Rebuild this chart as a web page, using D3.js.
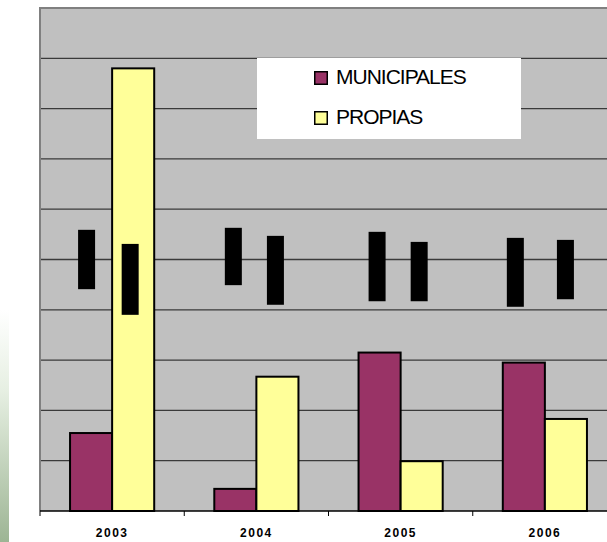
<!DOCTYPE html>
<html>
<head>
<meta charset="utf-8">
<script src="https://cdn.jsdelivr.net/npm/d3@7/dist/d3.min.js"></script>
<style>
  html, body { margin: 0; padding: 0; background: #ffffff; }
  svg { display: block; }
</style>
</head>
<body>
<svg id="chart" width="607" height="542"></svg>
<script>
// Yearly totals by origin
const years = ["2003", "2004", "2005", "2006"];
const seriesNames = ["MUNICIPALES", "PROPIAS"];
const municipales = [1.55, 0.44, 3.15, 2.95];
const propias = [8.8, 2.67, 0.99, 1.83];
const seriesColors = ["#993366", "#ffff99"];
const gridTicks = [0, 1, 2, 3, 4, 5, 6, 7, 8, 9, 10];

// Value-label boxes (blanked), as upper/lower value per bar
const labelTopMun = [5.59, 5.63, 5.55, 5.43];
const labelBotMun = [4.41, 4.49, 4.17, 4.06];
const labelTopPro = [5.31, 5.47, 5.35, 5.39];
const labelBotPro = [3.90, 4.10, 4.17, 4.21];

const svg = d3.select("#chart");
const W = 607, H = 542;
const plot = { left: 40, right: 617, top: 8, bottom: 511 };

// soft green strip on the left edge
const defs = svg.append("defs");
const grad = defs.append("linearGradient")
  .attr("id", "sideFade").attr("x1", 0).attr("y1", 0).attr("x2", 0).attr("y2", 1);
grad.append("stop").attr("offset", "0%").attr("stop-color", "#ffffff");
grad.append("stop").attr("offset", "35%").attr("stop-color", "#e6efe2");
grad.append("stop").attr("offset", "100%").attr("stop-color", "#9db594");
svg.append("rect").attr("x", 0).attr("y", 310).attr("width", 9).attr("height", H - 310)
  .attr("fill", "url(#sideFade)");

const x = d3.scaleBand().domain(years).range([plot.left, plot.right]).padding(0);
const xs = d3.scaleBand().domain(seriesNames).range([0, x.bandwidth()])
  .paddingInner(0).paddingOuter(0.714);
const y = d3.scaleLinear().domain([0, 10]).range([plot.bottom, plot.top]);

// plot area
svg.append("rect")
  .attr("x", plot.left).attr("y", plot.top)
  .attr("width", plot.right - plot.left).attr("height", plot.bottom - plot.top)
  .attr("fill", "#c0c0c0");

// horizontal gridlines
svg.append("g")
  .selectAll("line")
  .data(gridTicks.slice(1, -1))
  .join("line")
  .attr("x1", plot.left).attr("x2", plot.right)
  .attr("y1", d => y(d)).attr("y2", d => y(d))
  .attr("stroke", "#3a3a3a").attr("stroke-width", 1.3);

// plot frame (left and top)
svg.append("path")
  .attr("d", `M${plot.left},${plot.bottom} V${plot.top} H${plot.right}`)
  .attr("fill", "none").attr("stroke", "#808080").attr("stroke-width", 2);

// bars
const rows = years.map((yr, i) => ({
  year: yr,
  values: [
    { name: seriesNames[0], v: municipales[i], top: labelTopMun[i], bot: labelBotMun[i] },
    { name: seriesNames[1], v: propias[i], top: labelTopPro[i], bot: labelBotPro[i] }
  ]
}));
const color = d3.scaleOrdinal().domain(seriesNames).range(seriesColors);

const groups = svg.append("g").selectAll("g")
  .data(rows).join("g")
  .attr("transform", d => `translate(${x(d.year)},0)`);

groups.selectAll("rect.bar")
  .data(d => d.values).join("rect")
  .attr("class", "bar")
  .attr("x", d => xs(d.name))
  .attr("width", xs.bandwidth())
  .attr("y", d => y(d.v))
  .attr("height", d => y(0) - y(d.v))
  .attr("fill", d => color(d.name))
  .attr("stroke", "#000").attr("stroke-width", 2);

// blanked value labels
const labelNudge = [[-4.5, -3], [-2, -2], [-2.5, -2.5], [-8.5, -0.5]];
groups.each(function (d, gi) {
  d3.select(this).selectAll("rect.lbl")
    .data(d.values).join("rect")
    .attr("class", "lbl")
    .attr("x", (v, si) => xs(v.name) + xs.bandwidth() / 2 - 8.5 + labelNudge[gi][si])
    .attr("width", 17)
    .attr("y", v => y(v.top))
    .attr("height", v => y(v.bot) - y(v.top))
    .attr("fill", "#000");
});

// category axis
const xAxis = d3.axisBottom(x).tickSize(0).tickPadding(0);
const ax = svg.append("g").attr("transform", `translate(0,${plot.bottom})`);
ax.append("line").attr("x1", plot.left).attr("x2", plot.right)
  .attr("y1", 0).attr("y2", 0).attr("stroke", "#000").attr("stroke-width", 1.5);
ax.selectAll("line.tick")
  .data(years.map(d => x(d)))
  .join("line").attr("class", "tick")
  .attr("x1", d => d).attr("x2", d => d)
  .attr("y1", 0).attr("y2", 5)
  .attr("stroke", "#000").attr("stroke-width", 1);
const axG = svg.append("g").attr("transform", `translate(0,${plot.bottom})`).call(xAxis);
axG.select(".domain").remove();
axG.selectAll("text")
  .attr("y", 26)
  .attr("dy", 0)
  .attr("fill", "#000")
  .style("font-family", "'Liberation Sans', Arial, sans-serif")
  .style("font-size", "12px")
  .style("font-weight", "bold")
  .style("letter-spacing", "1.5px");

// legend
const lg = svg.append("g");
lg.append("rect").attr("x", 257).attr("y", 58).attr("width", 264).attr("height", 81)
  .attr("fill", "#ffffff");
const items = lg.selectAll("g.item").data(seriesNames).join("g")
  .attr("class", "item")
  .attr("transform", (d, i) => `translate(0,${i * 40})`);
items.append("rect")
  .attr("x", 314.75).attr("y", 71.75).attr("width", 12.5).attr("height", 12.5)
  .attr("fill", d => color(d)).attr("stroke", "#000").attr("stroke-width", 1.5);
items.append("text")
  .attr("x", 336).attr("y", 83.5)
  .text(d => d)
  .attr("fill", "#000")
  .style("font-family", "'Liberation Sans', Arial, sans-serif")
  .style("font-size", "21px")
  .style("letter-spacing", "-1px");
</script>
</body>
</html>
